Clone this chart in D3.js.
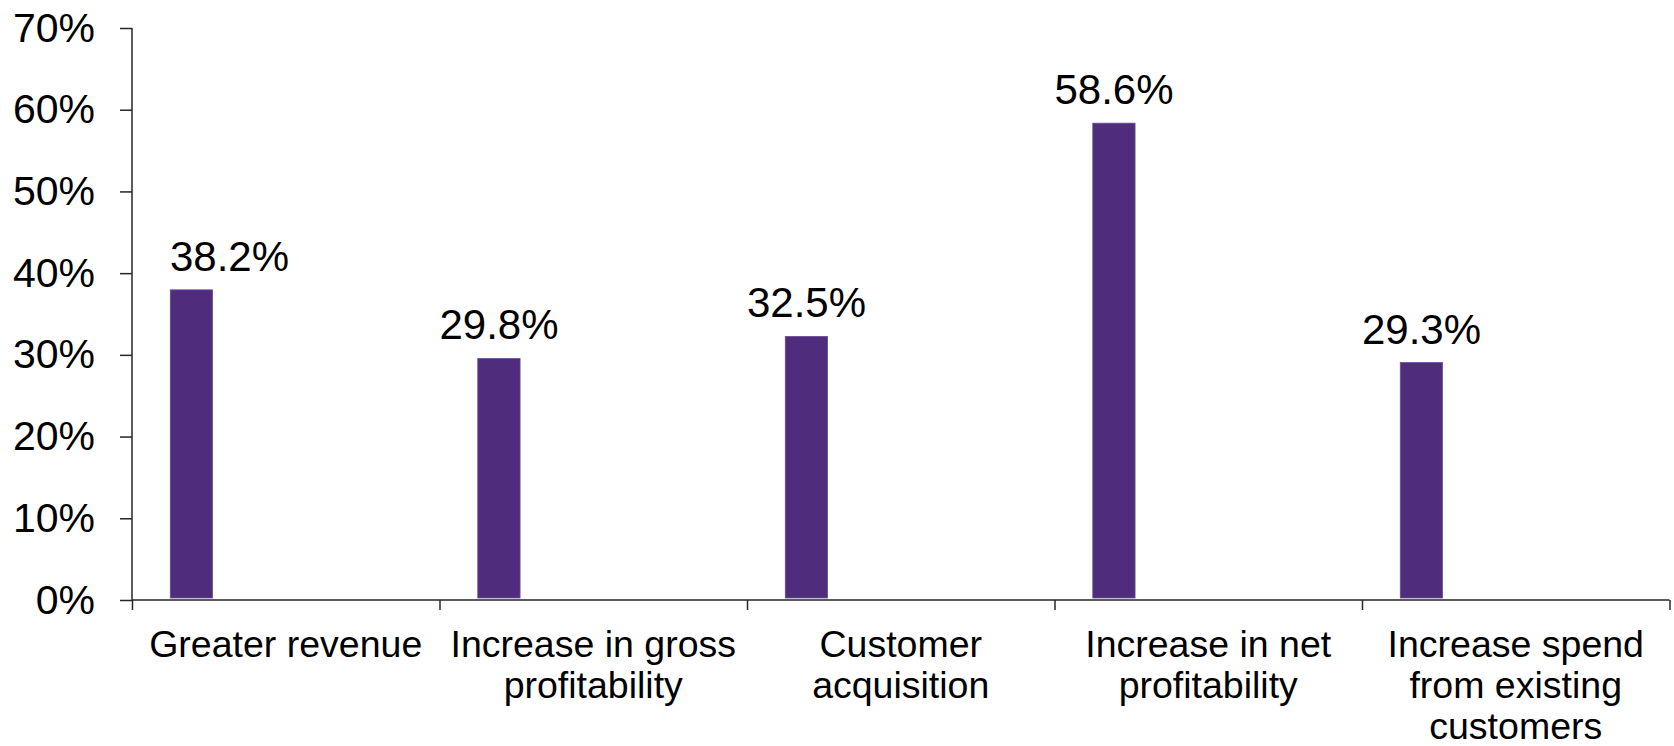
<!DOCTYPE html>
<html>
<head>
<meta charset="utf-8">
<script src="https://cdn.jsdelivr.net/npm/d3@7"></script>
<style>
  html, body { margin: 0; padding: 0; background: #fff; }
  svg { display: block; }
  text { font-family: "Liberation Sans", Arial, sans-serif; fill: #000; }
</style>
</head>
<body>
<svg id="chart" width="1674" height="746"></svg>
<script>
const categories = [
  ["Greater revenue"],
  ["Increase in gross", "profitability"],
  ["Customer", "acquisition"],
  ["Increase in net", "profitability"],
  ["Increase spend", "from existing", "customers"]
];
const values = [38.2, 29.8, 32.5, 58.6, 29.3];
const valueLabels = ["38.2%", "29.8%", "32.5%", "58.6%", "29.3%"];
const yTicks = [0, 10, 20, 30, 40, 50, 60, 70];
const yTickLabels = ["0%", "10%", "20%", "30%", "40%", "50%", "60%", "70%"];

(function () {
const svg = d3.select("#chart");
const mLeft = 132, mRight = 1669.5, mTop = 28, mBottom = 600;
const keys = categories.map((c, i) => "c" + i);

const x = d3.scaleBand().domain(keys).range([mLeft, mRight]).padding(0);
const y = d3.scaleLinear().domain([0, 70]).range([mBottom, mTop]);
const axisColor = "#262626";

// bars
svg.append("g").selectAll("rect").data(values).join("rect")
  .attr("x", (d, i) => x(keys[i]) + x.bandwidth() * 0.1245)
  .attr("width", x.bandwidth() * 0.1375)
  .attr("y", d => y(d) + 2)
  .attr("height", d => y(0) - y(d) - 4)
  .attr("fill", "#4f2d7c")
  .attr("stroke", "#6a4e9a")
  .attr("stroke-width", 0.8);

// value labels
svg.append("g").selectAll("text").data(values).join("text")
  .attr("x", (d, i) => x(keys[i]) + x.bandwidth() * 0.1935 + (i === 0 ? 38 : 0))
  .attr("y", d => y(d) - 17)
  .attr("text-anchor", "middle")
  .attr("font-size", 42)
  .text((d, i) => valueLabels[i]);

// y axis
const yAxis = d3.axisLeft(y).tickValues(yTicks).tickSize(12).tickPadding(25)
  .tickFormat((d, i) => yTickLabels[i]);
const gy = svg.append("g").attr("transform", `translate(${mLeft},0)`).call(yAxis);
gy.select(".domain").attr("d", `M0,${mTop}V${mBottom}`).attr("stroke", axisColor).attr("stroke-width", 1.5);
gy.selectAll(".tick line").attr("stroke", axisColor).attr("stroke-width", 1.5);
gy.selectAll(".tick text").attr("font-size", 41).attr("font-family", "Liberation Sans, Arial, sans-serif").attr("fill", "#000");

// x axis
const xEdge = d3.scaleLinear().domain([0, keys.length]).range([mLeft, mRight]);
const xAxis = d3.axisBottom(xEdge).tickValues(d3.range(0, keys.length + 1)).tickSize(10).tickFormat("");
const gx = svg.append("g").attr("transform", `translate(0,${mBottom})`).call(xAxis);
gx.select(".domain").attr("d", `M${mLeft},0H${mRight}`).attr("stroke", axisColor).attr("stroke-width", 1.5);
gx.selectAll(".tick line").attr("stroke", axisColor).attr("stroke-width", 1.5);

// category labels
const cl = svg.append("g").selectAll("text").data(categories).join("text")
  .attr("x", (d, i) => x(keys[i]) + x.bandwidth() / 2)
  .attr("y", 657)
  .attr("text-anchor", "middle")
  .attr("font-size", 37.5);
cl.each(function(lines) {
  const t = d3.select(this);
  lines.forEach((ln, j) => {
    t.append("tspan").attr("x", t.attr("x")).attr("dy", j === 0 ? 0 : 41).text(ln);
  });
});
})();
</script>
</body>
</html>
